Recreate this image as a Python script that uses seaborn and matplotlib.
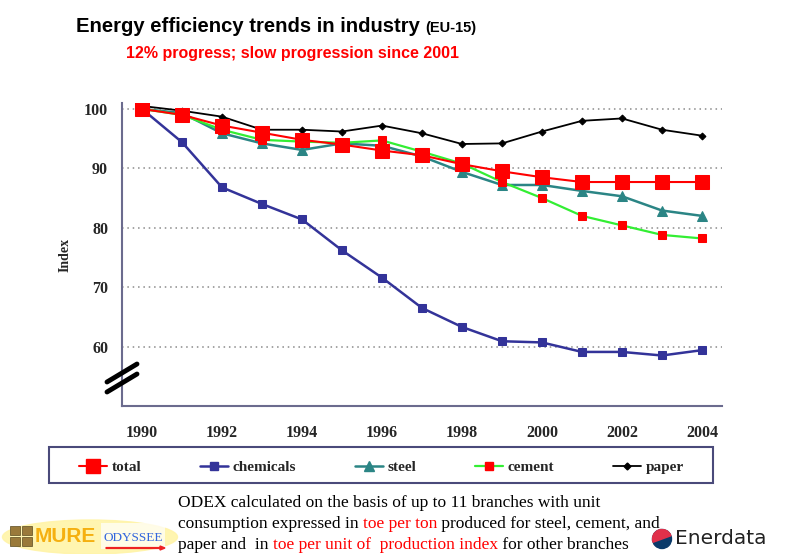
import matplotlib
matplotlib.use("Agg")
import matplotlib.pyplot as plt
from matplotlib.lines import Line2D
from matplotlib.patches import Circle, Ellipse, Rectangle, Wedge, FancyArrow
from matplotlib.transforms import IdentityTransform
import seaborn as sns

# --------------------------------------------------
# Data (index, 1990 = 100)
# --------------------------------------------------
years = list(range(1990, 2005))
total = [100, 99.0, 97.2, 96.0, 94.8, 94.0, 93.0, 92.2, 90.7, 89.5, 88.5, 87.7, 87.7, 87.7, 87.7]
chemicals = [100, 94.4, 86.8, 84.0, 81.4, 76.2, 71.6, 66.5, 63.3, 60.9, 60.7, 59.1, 59.1, 58.5, 59.4]
steel = [100, 99.3, 95.9, 94.2, 93.1, 94.2, 93.8, 92.0, 89.4, 87.2, 87.2, 86.2, 85.3, 82.9, 82.0]
cement = [100, 99.0, 96.5, 94.8, 94.5, 94.3, 94.7, 92.8, 90.8, 87.7, 85.0, 82.0, 80.4, 78.8, 78.2]
paper = [100.5, 99.7, 98.7, 96.5, 96.5, 96.2, 97.2, 95.9, 94.1, 94.2, 96.2, 98.0, 98.4, 96.5, 95.5]

series_names = ["total", "chemicals", "steel", "cement", "paper"]
year_labels = ["1990", "1992", "1994", "1996", "1998", "2000", "2002", "2004"]
y_ticks = [60, 70, 80, 90, 100]

W, H = 786, 554
AXIS_COLOR = "#6b6b8e"
PX = IdentityTransform()

sns.set_style("white")
plt.rcParams["font.family"] = ["Liberation Serif", "DejaVu Serif"]

fig = plt.figure(figsize=(W / 100, H / 100), dpi=100)
ax = fig.add_axes([122 / W, 1 - 406 / H, 600 / W, 303 / H])

styles = {
    "chemicals": dict(color="#333399", marker="s", markersize=6, linewidth=1.8,
                      markerfacecolor="#333399", markeredgecolor="#333399"),
    "steel": dict(color="#2b8585", marker="^", markersize=6.5, linewidth=1.8,
                  markerfacecolor="#2b8585", markeredgecolor="#2b8585"),
    "cement": dict(color="#33ee33", marker="s", markersize=5.5, linewidth=1.6,
                   markerfacecolor="#ff0000", markeredgecolor="#ff0000"),
    "paper": dict(color="#000000", marker="D", markersize=3.5, linewidth=1.3,
                  markerfacecolor="#000000", markeredgecolor="#000000"),
    "total": dict(color="#ff0000", marker="s", markersize=10, linewidth=1.5,
                  markerfacecolor="#ff0000", markeredgecolor="#ff0000"),
}
values = {"total": total, "chemicals": chemicals, "steel": steel,
          "cement": cement, "paper": paper}

# total last so the big squares sit on top
for name in ["chemicals", "steel", "cement", "paper", "total"]:
    sns.lineplot(x=years, y=values[name], ax=ax, label=name, **styles[name])

ax.set_xlim(1989.5, 2004.5)
ax.set_ylim(50, 101)

# axes look
for side in ["top", "right"]:
    ax.spines[side].set_visible(False)
for side in ["left", "bottom"]:
    ax.spines[side].set_color(AXIS_COLOR)
    ax.spines[side].set_linewidth(1.5)

ax.set_yticks(y_ticks)
ax.set_yticklabels([str(v) for v in y_ticks])
ax.set_xticks([int(y) for y in year_labels])
ax.set_xticklabels(year_labels)
ax.set_xticks([y + 0.5 for y in range(1989, 2005)], minor=True)
ax.tick_params(axis="x", which="major", length=0, pad=14)
ax.tick_params(axis="x", which="minor", length=6, width=1.3, color=AXIS_COLOR, direction="out")
ax.tick_params(axis="y", which="major", length=8, width=1.3, color=AXIS_COLOR, direction="out", pad=2)
for lab in ax.get_xticklabels() + ax.get_yticklabels():
    lab.set_fontweight("bold")
    lab.set_fontsize(11.5)

ax.yaxis.grid(True, linestyle=(0, (1, 2.5)), color="#8a8a8a", linewidth=1.1)
ax.xaxis.grid(False)
ax.set_xlabel("")
ax.set_ylabel("Index", fontsize=10, fontweight="bold", labelpad=9)

ax.get_legend().remove()

# axis break marks
for dy in (0, 10):
    fig.add_artist(Line2D([107, 137], [H - (382 + dy), H - (364 + dy)],
                          transform=PX, color="black", linewidth=3.5))

# --------------------------------------------------
# Legend (own frame, entries spaced like the original)
# --------------------------------------------------
fig.add_artist(Rectangle((49, H - 483), 664, 36, transform=PX, facecolor="white",
                         edgecolor="#4a4a7a", linewidth=1.5))
handles = [Line2D([], [], **styles[n]) for n in series_names]
leg = fig.legend(handles, series_names, loc="center left", ncol=5,
                 bbox_to_anchor=(79 / W, 1 - 467 / H), frameon=False,
                 borderpad=0, borderaxespad=0, handlelength=1.85,
                 handletextpad=0.28, columnspacing=3.85,
                 prop=dict(family="Liberation Serif", weight="bold", size=11))


# --------------------------------------------------
# Texts built from coloured pieces
# --------------------------------------------------
def put_pieces(x, y_base, pieces, **kw):
    renderer = fig.canvas.get_renderer()
    for txt, color, size in pieces:
        t = fig.text(x, H - y_base, txt, color=color, fontsize=size,
                     transform=PX, va="baseline", ha="left", **kw)
        x += t.get_window_extent(renderer).width
    return x


put_pieces(76, 32, [("Energy efficiency trends in industry ", "black", 14.6),
                    ("(EU-15)", "black", 10.5)], family=["Liberation Sans"], fontweight="bold")
put_pieces(126, 58, [("12% progress; slow progression since 2001", "red", 11.5)],
           family=["Liberation Sans"], fontweight="bold")

note = dict(family=["Liberation Serif"])
put_pieces(178, 507, [("ODEX calculated on the basis of up to 11 branches with unit", "black", 12.5)], **note)
put_pieces(178, 528, [("consumption expressed in ", "black", 12.5),
                      ("toe per ton", "red", 12.5),
                      (" produced for steel, cement, and", "black", 12.5)], **note)
put_pieces(178, 549, [("paper and  in ", "black", 12.5),
                      ("toe per unit of  production index", "red", 12.5),
                      (" for other branches", "black", 12.5)], **note)

# logos (approximate)
fig.add_artist(Ellipse((90, H - 537), 175, 34, transform=PX,
                       color="#fff4a8", alpha=0.9, zorder=0))
for i in range(2):
    for j in range(2):
        fig.add_artist(Rectangle((10 + 12 * i, H - 546 + 11 * j), 10, 9, transform=PX,
                                 facecolor="#9a7a3a", edgecolor="#5a4a20", linewidth=0.5))
fig.text(35, H - 537, "MURE", transform=PX, fontsize=15, fontweight="heavy",
         family="Liberation Sans", color="#f5b010", va="center")
fig.add_artist(Rectangle((101, H - 549), 64, 26, transform=PX, facecolor="white",
                         edgecolor="none", alpha=0.7))
fig.text(103, H - 538, "ODYSSEE", transform=PX, fontsize=9.5, family="Liberation Serif",
         color="#3366dd", va="center")
fig.add_artist(FancyArrow(106, H - 548, 54, 0, width=0.8, head_width=4, head_length=5,
                          transform=PX, color="#ee2222"))
fig.add_artist(Circle((662, H - 539), 9.5, transform=PX, color="#0a3a6a"))
fig.add_artist(Wedge((662, H - 539), 9.5, 20, 200, transform=PX, color="#e0304a"))
fig.text(675, H - 539, "Enerdata", transform=PX, fontsize=14.5,
         family="DejaVu Sans", color="#222222", va="center")

fig.savefig("out.png", dpi=100)
plt.close(fig)
